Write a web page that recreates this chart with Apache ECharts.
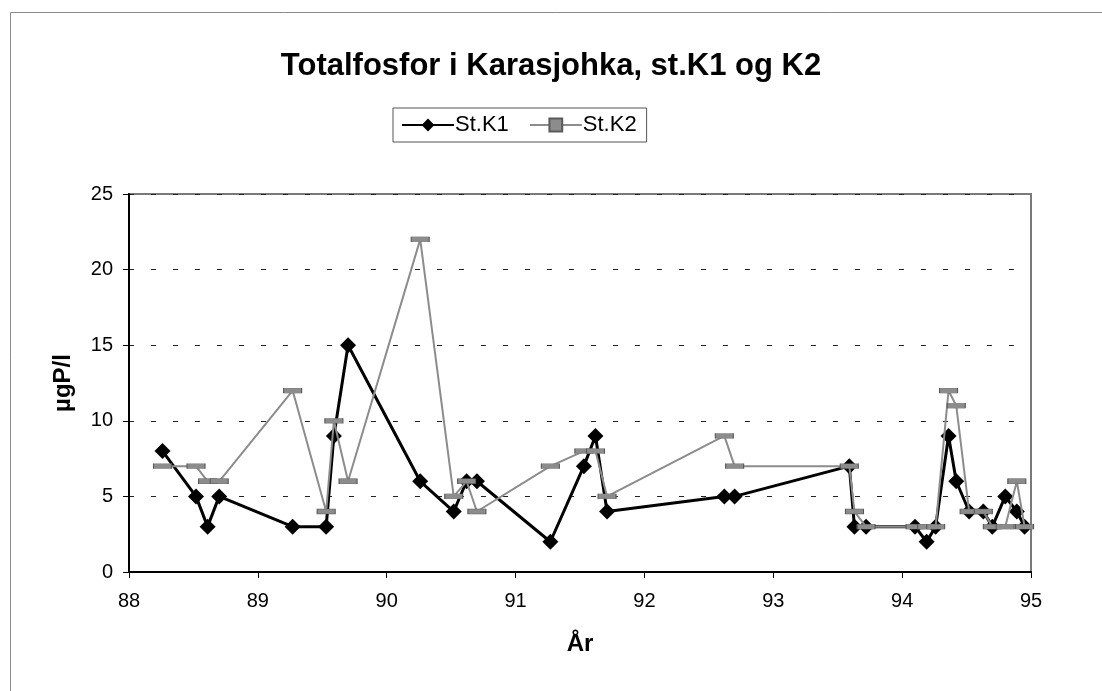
<!DOCTYPE html>
<html>
<head>
<meta charset="utf-8">
<script src="https://cdn.jsdelivr.net/npm/echarts@6/dist/echarts.min.js"></script>
<style>
  html, body { margin: 0; padding: 0; background: #fff; }
  #chart { width: 1102px; height: 691px; }
</style>
</head>
<body>
<div id="chart"></div>
<script>
// Prøvetakingsdatoer (år, desimal) og målt totalfosfor, µgP/l
const dates = [88.26, 88.52, 88.61, 88.70, 89.27, 89.53, 89.59, 89.70, 90.26, 90.52,
  90.62, 90.70, 91.27, 91.53, 91.62, 91.71, 92.62, 92.70, 93.59, 93.63, 93.72,
  94.10, 94.19, 94.26, 94.36, 94.42, 94.52, 94.63, 94.70, 94.80, 94.89, 94.95];
const k1 = [8, 5, 3, 5, 3, 3, 9, 15, 6, 4, 6, 6, 2, 7, 9, 4, 5, 5, 7, 3, 3,
  3, 2, 3, 9, 6, 4, 4, 3, 5, 4, 3];
const k2 = [7, 7, 6, 6, 12, 4, 10, 6, 22, 5, 6, 4, 7, 8, 8, 5, 9, 7, 7, 4, 3,
  3, 3, 3, 12, 11, 4, 4, 3, 3, 6, 3];

const FONT = "Liberation Sans, Arial, sans-serif";

function pairs(ys) {
  return dates.map((d, i) => [d, ys[i]]);
}

const chart = echarts.init(document.getElementById("chart"));

chart.setOption({
  animation: false,
  backgroundColor: "#fff",
  textStyle: { fontFamily: FONT },
  graphic: [
    {
      type: "rect",
      shape: { x: 10.5, y: 12.5, width: 1200, height: 800 },
      style: { fill: "none", stroke: "#8a8a8a", lineWidth: 1 },
      silent: true
    }
  ],
  title: {
    text: "Totalfosfor i Karasjohka, st.K1 og K2",
    left: 546,
    top: 46,
    textAlign: "center",
    textStyle: { fontFamily: FONT, fontSize: 31, fontWeight: "bold", color: "#000" }
  },
  legend: {
    left: 393,
    top: 108,
    padding: [6, 10, 6, 8],
    itemWidth: 52,
    itemHeight: 16,
    itemGap: 20,
    borderColor: "#555",
    borderWidth: 1,
    textStyle: { fontFamily: FONT, fontSize: 22, color: "#000", padding: [0, 0, 0, -4] },
    data: ["St.K1", "St.K2"]
  },
  grid: {
    left: 129,
    right: 71,
    top: 194,
    bottom: 119,
    show: true,
    borderColor: "#7a7a7a",
    borderWidth: 2
  },
  xAxis: {
    type: "value",
    min: 88,
    max: 95,
    interval: 1,
    name: "År",
    nameLocation: "middle",
    nameGap: 60,
    nameTextStyle: { fontFamily: FONT, fontSize: 24, fontWeight: "bold", color: "#000" },
    axisLine: { lineStyle: { color: "#000", width: 2 } },
    axisTick: { length: 6, lineStyle: { color: "#000", width: 1 } },
    axisLabel: { fontFamily: FONT, fontSize: 20, color: "#000", margin: 19 },
    splitLine: { show: false }
  },
  yAxis: {
    type: "value",
    min: 0,
    max: 25,
    interval: 5,
    name: "µgP/l",
    nameLocation: "middle",
    nameGap: 54,
    nameRotate: 90,
    nameTextStyle: { fontFamily: FONT, fontSize: 24, fontWeight: "bold", color: "#000" },
    axisLine: { show: true, lineStyle: { color: "#000", width: 2 } },
    axisTick: { show: true, length: 6, lineStyle: { color: "#000", width: 1 } },
    axisLabel: { fontFamily: FONT, fontSize: 20, color: "#000", margin: 16 },
    splitLine: { show: true, lineStyle: { color: "#222", width: 1, type: [5, 17] } }
  },
  series: [
    {
      name: "St.K1",
      type: "line",
      data: pairs(k1),
      symbol: "diamond",
      symbolSize: 16,
      lineStyle: { color: "#000", width: 3 },
      itemStyle: { color: "#000" },
      z: 2
    },
    {
      name: "St.K2",
      type: "line",
      data: pairs(k2),
      symbol: "rect",
      symbolSize: [18, 5],
      lineStyle: { color: "#8c8c8c", width: 2 },
      itemStyle: { color: "#8c8c8c", borderColor: "#5a5a5a", borderWidth: 0.6 },
      z: 3
    }
  ]
});
</script>
</body>
</html>
